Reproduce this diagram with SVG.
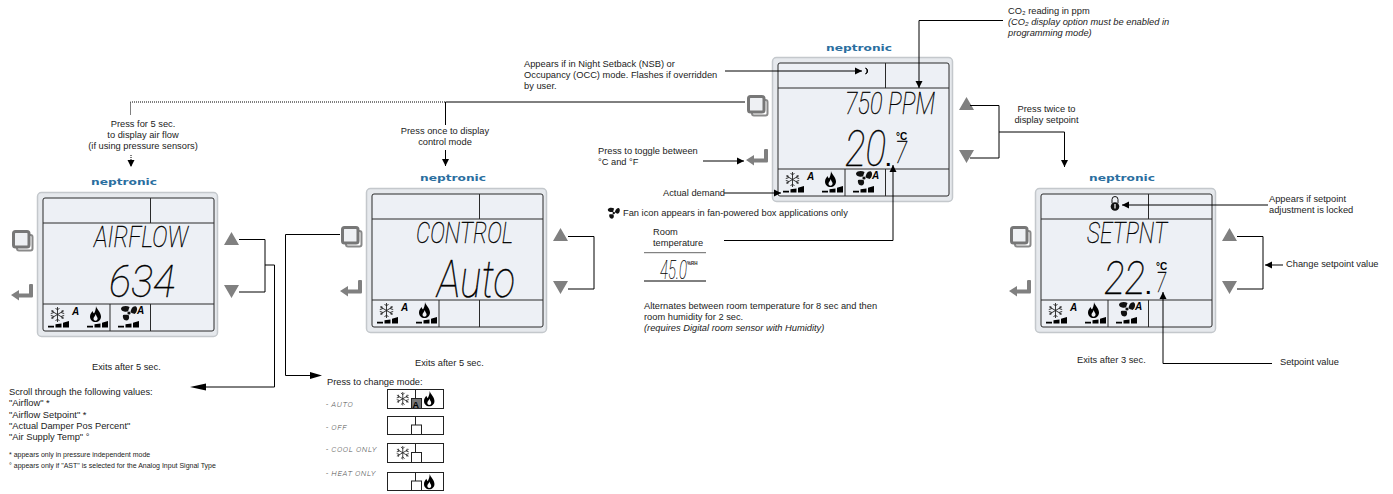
<svg xmlns="http://www.w3.org/2000/svg" width="1393" height="494" viewBox="0 0 1393 494">
<style>
text{font-family:"Liberation Sans",Arial,sans-serif;font-size:9.3px;fill:#222}
.c{text-anchor:middle}
.i{font-style:italic}
.seg{font-family:Roboto,"Liberation Sans",sans-serif;font-weight:100;font-style:italic;fill:#000;stroke:#000;stroke-width:.35}
.mode{font-family:Roboto,"Liberation Sans",sans-serif;font-weight:300;font-style:italic;font-size:8px;fill:#555;letter-spacing:.6px}
.logo{font-family:"DejaVu Sans",sans-serif;font-weight:700;font-size:8.5px;fill:#2b6f9f}
.a{font-weight:700;font-style:italic;font-size:10px;fill:#000}
.deg{font-weight:700;font-size:10px;fill:#000}
.pt{font-weight:700;font-size:20px;fill:#000}
.note{font-size:7px}
.ln{fill:none;stroke:#000;stroke-width:1}
.arr{marker-end:url(#ah)}
.dot{stroke-dasharray:1 1}
.key{fill:#808080}
.lcd{fill:none;stroke:#2a2a2a;stroke-width:1}
</style>
<defs>
<marker id="ah" markerUnits="userSpaceOnUse" markerWidth="8" markerHeight="8" refX="7" refY="4" orient="auto"><path d="M0 .5L7 4L0 7.5z" fill="#000"/></marker>
<g id="flake" fill="none" stroke="#222" stroke-width=".9"><path d="M7.500 0V15M1 3.700L14 11.300M1 11.300L14 3.700M5.500 1L7.500 3L9.500 1M5.500 14L7.500 12L9.500 14M0.800 6.500L3.400 5.800L2.600 3M14.200 8.500L11.600 9.200L12.400 12M14.200 6.500L11.600 5.800L12.400 3M.8 8.500L3.400 9.200L2.600 12"/></g>
<path id="flame" d="M6 0C6.500 3 11 6 11 10.500C11 14 8.500 16 5.500 16C2.500 16 0 14 0 10.500C0 8 1.500 6.500 2.500 5C3 6.500 3.500 7 4 7.500C5 5.500 6 3 6 0ZM5.700 8C5.500 10 3.500 11 3.500 12.700C3.500 14 4.500 14.700 5.500 14.700C6.800 14.700 7.600 13.800 7.600 12.600C7.600 11 6 10 5.700 8Z" fill-rule="evenodd" fill="#000"/>
<g id="fan" fill="#111"><circle cx="9" cy="8" r="1.600"/><path d="M8 6.500C5 7 1 6.500 1 3.500C2 .5 7 .5 9.500 2C9 3.500 8.500 5 8 6.500Z"/><path d="M10.500 7C11 4 13 .5 16 1.500C18 3 17 7.500 14.500 9C13 8.500 11.500 8 10.500 7Z"/><path d="M8.500 10C9.500 12 9.500 15 6.500 15.500C3.500 15.500 2.500 12.500 3 10C5 9.500 7 9.700 8.500 10Z"/></g>
<path id="bars" d="M0 5.800H6V7.500H0ZM7.500 4.300L13.500 3.500V7.500H7.500ZM15 2.800L21 1V7.500H15Z" fill="#000"/>
<g id="copy"><rect x="5" y="5" width="15.500" height="15.500" rx="2" fill="none" stroke="#8a8a8a" stroke-width="2"/><rect x="1.500" y="1.500" width="15.500" height="15.500" rx="2" fill="#eef0f3" stroke="#777" stroke-width="3"/></g>
<path id="ret" d="M0 11L8 6V9.500H18V1.500C18 .5 18.500 0 19 0H21C21.600 0 22 .5 22 1V12C22 13 21.500 13.500 20.500 13.500H8V16.500Z" fill="#808080"/>
<g id="frame">
<rect x=".5" y=".5" width="180" height="144" rx="4" fill="#e6e9ed" stroke="#c4c8cc" stroke-width="1.500"/>
<rect x="6" y="6" width="171" height="133" rx="2" fill="#edf0f5" stroke="#2a2a2a" stroke-width="1"/>
<path class="lcd" d="M6 31H177M6 112H177M113.500 6V31M73 112V139M113.500 112V139"/>
<use href="#flake" x="13" y="115"/><text class="a" x="35" y="123">A</text><use href="#bars" x="11" y="128"/>
<use href="#flame" x="53" y="114"/><use href="#bars" x="50" y="128"/>
<use href="#copy" x="-25" y="38"/><use href="#ret" x="-26" y="92"/>
<path class="key" d="M187 53L194.500 40L202 53ZM187 93L194.500 106L202 93Z"/>
</g>
<g id="fanset"><use href="#fan" x="83" y="113"/><text class="a" x="100" y="122">A</text><use href="#bars" x="81" y="128"/></g>
</defs>

<g id="panel-airflow" transform="translate(37,192)">
<text class="logo" x="54" y="-7" textLength="66" lengthAdjust="spacingAndGlyphs">neptronic</text>
<use href="#frame"/><use href="#fanset"/>
<text class="seg" x="57" y="55" style="font-size:29.500px" textLength="94" lengthAdjust="spacingAndGlyphs">AIRFLOW</text>
<text class="seg" x="72" y="105" style="font-size:45px" textLength="66" lengthAdjust="spacingAndGlyphs">634</text>
</g>
<g id="panel-control" transform="translate(366,188)">
<text class="logo" x="54" y="-7" textLength="66" lengthAdjust="spacingAndGlyphs">neptronic</text>
<use href="#frame"/>
<text class="seg" x="50" y="55" style="font-size:30px" textLength="97" lengthAdjust="spacingAndGlyphs">CONTROL</text>
<text class="seg" x="71" y="109" style="font-size:52px" textLength="78" lengthAdjust="spacingAndGlyphs">Auto</text>
</g>
<g id="panel-main" transform="translate(772,57)">
<text class="logo" x="54" y="-6" textLength="66" lengthAdjust="spacingAndGlyphs">neptronic</text>
<use href="#frame"/><use href="#fanset"/>
<text class="seg" x="73" y="57" style="font-size:31px" textLength="90" lengthAdjust="spacingAndGlyphs">750 PPM</text>
<text class="seg" x="73" y="109" style="font-size:50px" textLength="41" lengthAdjust="spacingAndGlyphs">20</text>
<text class="pt" x="113.500" y="109">.</text>
<text class="seg" x="123" y="106" style="font-size:32px" textLength="12" lengthAdjust="spacingAndGlyphs">7</text>
<text class="deg" x="124" y="83">°C</text>
<path d="M93.500 11a3.200 3.200 0 0 1 0 6a3.600 3.600 0 0 0 0-6Z" fill="#000" stroke="#000"/>
</g>
<g id="panel-setpoint" transform="translate(1035,188)">
<text class="logo" x="54" y="-7" textLength="66" lengthAdjust="spacingAndGlyphs">neptronic</text>
<use href="#frame"/><use href="#fanset"/>
<text class="seg" x="52" y="55" style="font-size:30px" textLength="80" lengthAdjust="spacingAndGlyphs">SETPNT</text>
<text class="seg" x="69" y="106" style="font-size:46px" textLength="41" lengthAdjust="spacingAndGlyphs">22</text>
<text class="pt" x="110.500" y="106">.</text>
<text class="seg" x="121" y="104" style="font-size:28px" textLength="10" lengthAdjust="spacingAndGlyphs">7</text>
<text class="deg" x="121" y="82">°C</text>
<path d="M77 15V11.500a3 3 0 0 1 6 0V15" fill="none" stroke="#111" stroke-width="1"/><circle cx="80" cy="18.500" r="4.300" fill="#111"/><rect x="79.400" y="16" width="1.200" height="4.500" fill="#fff"/>
</g>

<g id="connectors">
<path class="ln dot" d="M445 102H130.500V115"/>
<path class="ln dot arr" d="M131 155V167"/>
<path class="ln" d="M745 102H445.500V125"/>
<path class="ln arr" d="M445.500 150V166"/>
<path class="ln" d="M239 239.500H265V292H239M265 265H274.500V387"/>
<path class="ln" d="M274.500 387H205"/><path d="M190 387L206 383.500V390.500Z" fill="#000"/>
<path class="ln" d="M340 234.500H285.500V375.500H310"/><path d="M322 375.500L310 372V379Z" fill="#000"/>
<path class="ln" d="M568 236.500H594V289H568"/>
<path class="ln" d="M970 105.500H999V158H970"/>
<path class="ln arr" d="M999 132H1064.500V167"/>
<path class="ln arr" d="M725 71H862"/>
<path class="ln arr" d="M1003 20.500H919V88"/>
<path class="ln arr" d="M703 161H744"/>
<path class="ln arr" d="M724 193H781"/>
<path class="ln arr" d="M724 240.500H893V165"/>
<path class="ln arr" d="M1268 205H1122"/>
<path class="ln" d="M1237 236.500H1263V289H1237"/>
<path class="ln arr" d="M1283 265H1265"/>
<path class="ln arr" d="M1272 363.500H1163V292"/>
</g>

<g id="labels">
<text class="c" x="143" y="126.500">Press for 5 sec.</text>
<text class="c" x="143" y="137.500">to display air flow</text>
<text class="c" x="143" y="148.500">(if using pressure sensors)</text>
<text class="c" x="445" y="134">Press once to display</text>
<text class="c" x="445" y="145">control mode</text>
<text x="92" y="370">Exits after 5 sec.</text>
<text x="415" y="366">Exits after 5 sec.</text>
<text x="1077" y="363">Exits after 3 sec.</text>
<text x="9" y="395">Scroll through the following values:</text>
<text x="9" y="406">"Airflow" *</text>
<text x="9" y="417.500">"Airflow Setpoint" *</text>
<text x="9" y="429">"Actual Damper Pos Percent"</text>
<text x="9" y="440">"Air Supply Temp" °</text>
<text class="note" x="9" y="457">*  appears only in pressure independent mode</text>
<text class="note" x="9" y="468">° appears only if "AST" is selected for the Analog Input Signal Type</text>
<text x="1008" y="14">CO₂ reading in ppm</text>
<text class="i" x="1008" y="25">(CO₂ display option must be enabled in</text>
<text class="i" x="1008" y="36">programming mode)</text>
<text x="524" y="67">Appears if in Night Setback (NSB) or</text>
<text x="524" y="78">Occupancy (OCC) mode. Flashes if overridden</text>
<text x="524" y="89">by user.</text>
<text x="598" y="154">Press to toggle between</text>
<text x="598" y="165">°C and °F</text>
<text x="663" y="196">Actual demand</text>
<use href="#fan" transform="translate(607,207) scale(.75)"/>
<text x="623" y="216">Fan icon appears in fan-powered box applications only</text>
<text x="653" y="235">Room</text>
<text x="653" y="246">temperature</text>
<path d="M644 252.700H706" stroke="#666" fill="none"/><path d="M644 281H706" stroke="#000" fill="none"/>
<text class="seg" x="660" y="279" style="font-size:25px;stroke-width:.2" textLength="27" lengthAdjust="spacingAndGlyphs">45.0</text>
<text x="687" y="265" style="font-size:4.500px;font-weight:700">%RH</text>
<text x="644" y="309">Alternates between room temperature for 8 sec and then</text>
<text x="644" y="320">room humidity for 2 sec.</text>
<text class="i" x="644" y="331">(requires Digital room sensor with Humidity)</text>
<text class="c" x="1046.500" y="112">Press twice to</text>
<text class="c" x="1046.500" y="123">display setpoint</text>
<text x="1269" y="202">Appears if setpoint</text>
<text x="1269" y="213">adjustment is locked</text>
<text x="1286" y="267">Change setpoint value</text>
<text x="1280" y="365">Setpoint value</text>
<text x="327" y="385">Press to change mode:</text>
<text class="mode" x="326" y="407">- AUTO</text>
<text class="mode" x="326" y="430">- OFF</text>
<text class="mode" x="326" y="452">- COOL ONLY</text>
<text class="mode" x="326" y="476">- HEAT ONLY</text>
</g>

<g id="mode-auto"><rect x="387.500" y="389.500" width="56" height="19" fill="#fff" stroke="#222"/><path d="M415.500 389.500V398" stroke="#222"/><use href="#flake" transform="translate(396,392) scale(.9)"/><use href="#flame" transform="translate(424,391) scale(.95)"/><rect x="411.500" y="398.500" width="10" height="10" fill="#777" stroke="#222"/><text x="412.500" y="407.500" style="font-weight:700;font-size:9px;fill:#000">A</text></g>
<g id="mode-off"><rect x="387.500" y="416.500" width="56" height="18" fill="#fff" stroke="#222"/><path d="M415.500 416.500V425" stroke="#222"/><rect x="411.500" y="425" width="10" height="9.500" fill="#fff" stroke="#222"/></g>
<g id="mode-cool"><rect x="387.500" y="443.500" width="56" height="19" fill="#fff" stroke="#222"/><path d="M415.500 443.500V452" stroke="#222"/><use href="#flake" transform="translate(396,446) scale(.9)"/><rect x="411.500" y="452.500" width="10" height="10" fill="#fff" stroke="#222"/></g>
<g id="mode-heat"><rect x="387.500" y="472.500" width="56" height="18" fill="#fff" stroke="#222"/><path d="M415.500 472.500V481" stroke="#222"/><use href="#flame" transform="translate(424,474) scale(.95)"/><rect x="411.500" y="481" width="10" height="9.500" fill="#fff" stroke="#222"/></g>
</svg>
